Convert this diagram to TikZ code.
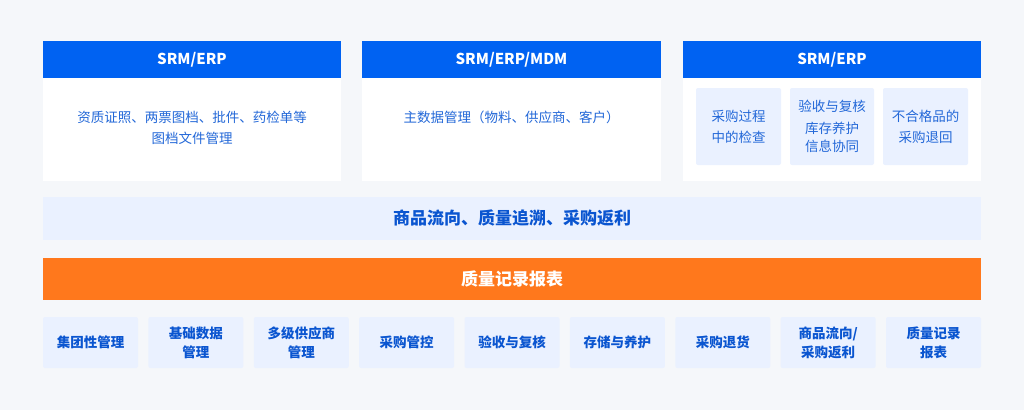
\documentclass[tikz,border=0pt]{standalone}
\usepackage{fontspec}
\setmainfont{Noto Sans CJK SC}
\definecolor{pagebg}{HTML}{F5F7FA}
\definecolor{hdrblue}{HTML}{0062F2}
\definecolor{txtblue}{HTML}{2368D8}
\definecolor{darkblue}{HTML}{0A55D0}
\definecolor{paleblue}{HTML}{EAF1FF}
\definecolor{orangebar}{HTML}{FF781C}
\tikzset{
  header/.style={fill=hdrblue, text=white, inner sep=0, minimum height=37pt,
    font=\bfseries\fontsize{15}{18}\selectfont},
  card/.style={fill=white, inner sep=0, minimum height=103pt},
  cardtext/.style={text=txtblue, align=center, inner sep=0,
    font=\fontsize{13.5}{21}\selectfont},
  subbox/.style={fill=paleblue, rounded corners=2pt, text=txtblue, align=center,
    inner sep=0, minimum width=85pt, minimum height=77pt,
    font=\fontsize{13.5}{21}\selectfont},
  band/.style={fill=paleblue, text=darkblue, inner sep=0, minimum width=938pt,
    minimum height=43pt, font=\bfseries\fontsize{17}{20}\selectfont},
  bar/.style={fill=orangebar, text=white, inner sep=0, minimum width=938pt,
    minimum height=42pt, font=\bfseries\fontsize{17}{20}\selectfont},
  module/.style={fill=paleblue, rounded corners=2pt, text=darkblue, align=center,
    inner sep=0, minimum width=95pt, minimum height=51pt,
    font=\bfseries\fontsize{13.5}{19}\selectfont}
}
\begin{document}
\begin{tikzpicture}[x=1pt, y=-1pt]
  \fill[pagebg] (0,0) rectangle (1024,410);
  \useasboundingbox (0,0) rectangle (1024,410);

  % top cards
  \node[card, minimum width=298pt] (c1) at (192,129.5) {};
  \node[card, minimum width=299pt] (c2) at (511.5,129.5) {};
  \node[card, minimum width=298pt] (c3) at (832,129.5) {};
  \node[header, minimum width=298pt] (h1) at (192,59.5) {SRM/ERP};
  \node[header, minimum width=299pt] (h2) at (511.5,59.5) {SRM/ERP/MDM};
  \node[header, minimum width=298pt] (h3) at (832,59.5) {SRM/ERP};

  \node[cardtext] (t1) at (192,127.5) {资质证照、两票图档、批件、药检单等\\图档文件管理};
  \node[cardtext] (t2) at (511.5,117) {主数据管理（物料、供应商、客户）};

  \node[subbox] (s1) at (738.5,126.5) {采购过程\\中的检查};
  \node[subbox, minimum width=84pt, font=\fontsize{13.5}{18}\selectfont] (s2) at (832,126.5)
    {验收与复核\\[4.5pt]库存养护\\信息协同};
  \node[subbox] (s3) at (925.5,126.5) {不合格品的\\采购退回};

  % bands
  \node[band] (flow) at (512,218.5) {商品流向、质量追溯、采购返利};
  \node[bar] (report) at (512,279) {质量记录报表};

  % modules
  \node[module] (m1) at (90.5,342.5) {集团性管理};
  \node[module] (m2) at (195.9,342.5) {基础数据\\管理};
  \node[module] (m3) at (301.3,342.5) {多级供应商\\管理};
  \node[module] (m4) at (406.6,342.5) {采购管控};
  \node[module] (m5) at (512,342.5) {验收与复核};
  \node[module] (m6) at (617.4,342.5) {存储与养护};
  \node[module] (m7) at (722.8,342.5) {采购退货};
  \node[module] (m8) at (828.1,342.5) {商品流向/\\采购返利};
  \node[module] (m9) at (933.5,342.5) {质量记录\\报表};
\end{tikzpicture}
\end{document}
